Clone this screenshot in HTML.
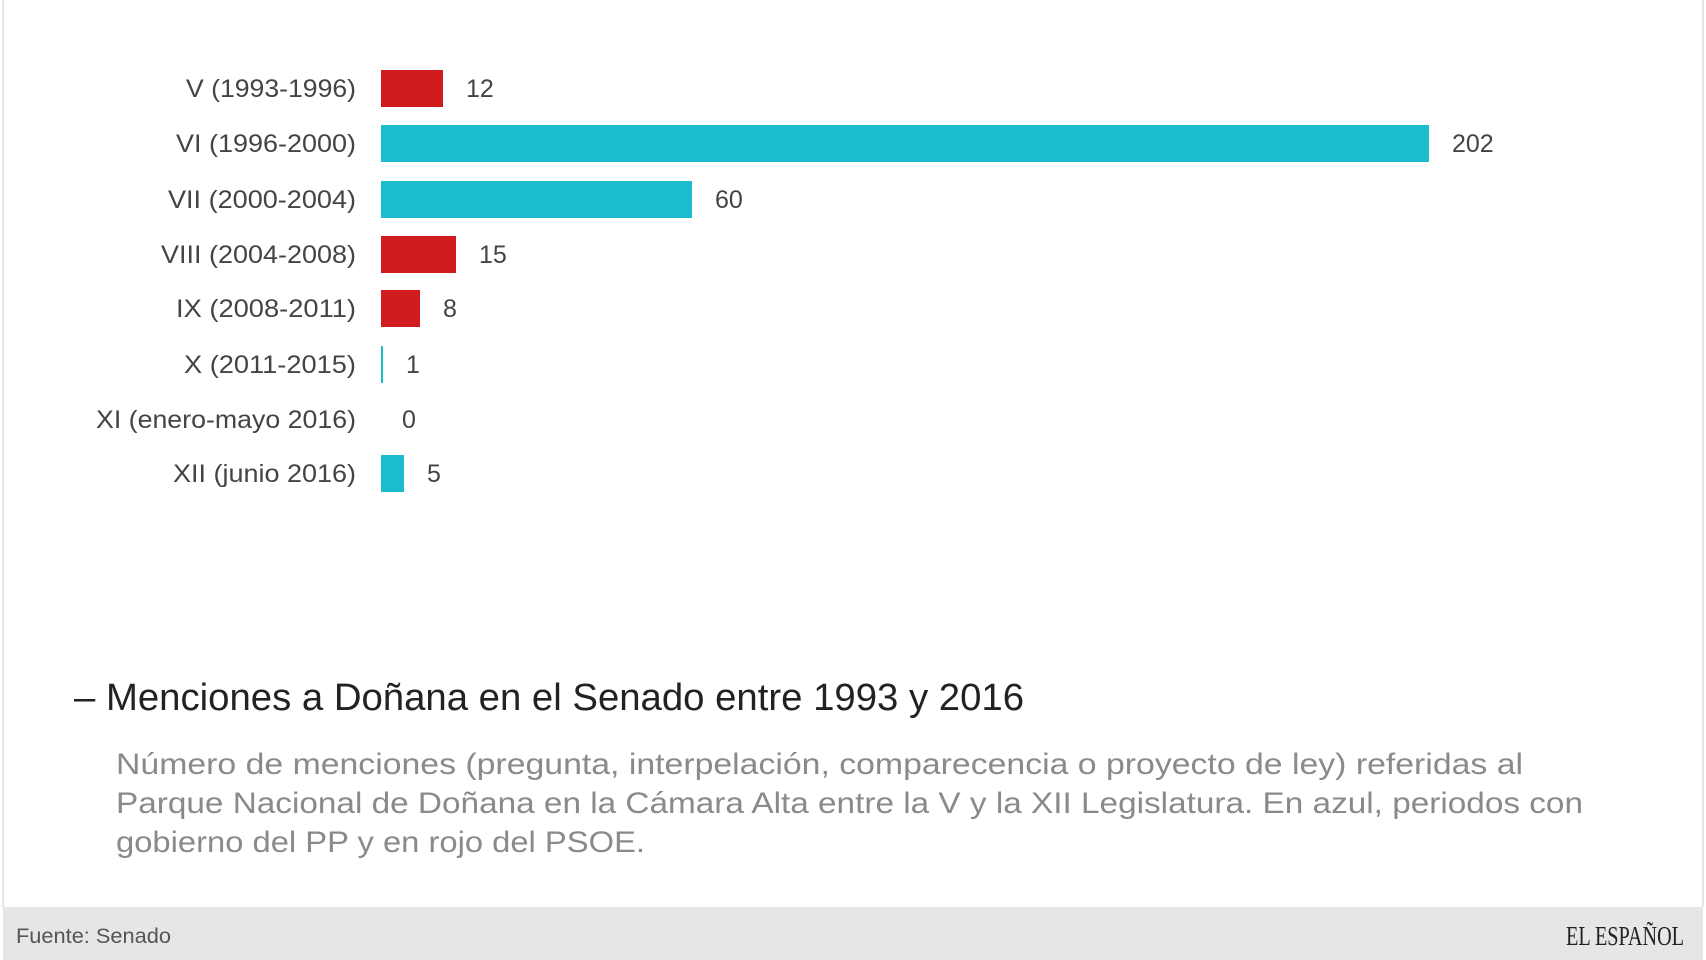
<!DOCTYPE html>
<html><head><meta charset="utf-8"><style>
html,body{margin:0;padding:0;background:#fff}
svg{display:block}
text{font-family:"Liberation Sans",sans-serif}
</style></head><body>
<svg width="1706" height="960" viewBox="0 0 1706 960" xmlns="http://www.w3.org/2000/svg">
<rect width="1706" height="960" fill="#fff"/>
<line x1="3" y1="0" x2="3" y2="907" stroke="#e4e4e4" stroke-width="2"/>
<line x1="1703" y1="0" x2="1703" y2="907" stroke="#e4e4e4" stroke-width="2"/>
<g font-size="25" fill="#444" text-anchor="end">
<text x="356" y="97" textLength="170" lengthAdjust="spacingAndGlyphs">V (1993-1996)</text>
<text x="356" y="152" textLength="180" lengthAdjust="spacingAndGlyphs">VI (1996-2000)</text>
<text x="356" y="208" textLength="188" lengthAdjust="spacingAndGlyphs">VII (2000-2004)</text>
<text x="356" y="263" textLength="195" lengthAdjust="spacingAndGlyphs">VIII (2004-2008)</text>
<text x="356" y="317" textLength="180" lengthAdjust="spacingAndGlyphs">IX (2008-2011)</text>
<text x="356" y="373" textLength="172" lengthAdjust="spacingAndGlyphs">X (2011-2015)</text>
<text x="356" y="428" textLength="260" lengthAdjust="spacingAndGlyphs">XI (enero-mayo 2016)</text>
<text x="356" y="482" textLength="183" lengthAdjust="spacingAndGlyphs">XII (junio 2016)</text>
</g>
<rect x="381" y="70" width="62" height="37" fill="#d01c1f"/>
<rect x="381" y="125" width="1048" height="37" fill="#1bbccc"/>
<rect x="381" y="181" width="311" height="37" fill="#1bbccc"/>
<rect x="381" y="236" width="75" height="37" fill="#d01c1f"/>
<rect x="381" y="290" width="39" height="37" fill="#d01c1f"/>
<rect x="381" y="346" width="2" height="37" fill="#1bbccc"/>
<rect x="381" y="455" width="23" height="37" fill="#1bbccc"/>
<g font-size="25" fill="#444">
<text x="466" y="97">12</text>
<text x="1452" y="152">202</text>
<text x="715" y="208">60</text>
<text x="479" y="263">15</text>
<text x="443" y="317">8</text>
<text x="406" y="373">1</text>
<text x="402" y="428">0</text>
<text x="427" y="482">5</text>
</g>
<text x="74" y="710" font-size="38" fill="#222" textLength="950" lengthAdjust="spacingAndGlyphs">– Menciones a Doñana en el Senado entre 1993 y 2016</text>
<g font-size="30" fill="#8a8a8a">
<text x="116" y="774" textLength="1407" lengthAdjust="spacingAndGlyphs">Número de menciones (pregunta, interpelación, comparecencia o proyecto de ley) referidas al</text>
<text x="116" y="813" textLength="1467" lengthAdjust="spacingAndGlyphs">Parque Nacional de Doñana en la Cámara Alta entre la V y la XII Legislatura. En azul, periodos con</text>
<text x="116" y="852" textLength="529" lengthAdjust="spacingAndGlyphs">gobierno del PP y en rojo del PSOE.</text>
</g>
<rect x="3" y="907" width="1700" height="53" fill="#e6e6e6"/>
<text x="16" y="943" font-size="21" fill="#555" textLength="155" lengthAdjust="spacingAndGlyphs">Fuente: Senado</text>
<text x="1684" y="945" font-size="27" fill="#222" text-anchor="end" style="font-family:'Liberation Serif',serif" textLength="118" lengthAdjust="spacingAndGlyphs">EL ESPAÑOL</text>
</svg>
</body></html>
